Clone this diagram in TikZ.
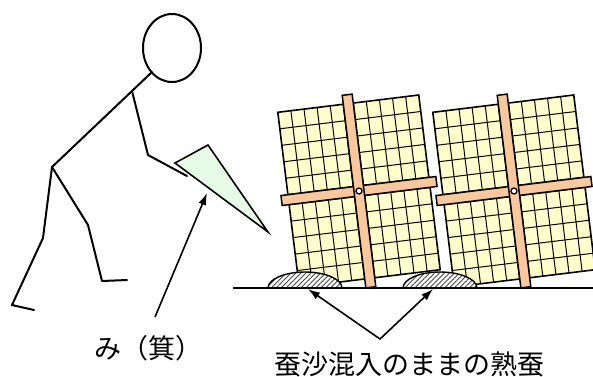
\documentclass[tikz,border=0pt]{standalone}
\usepackage{fontspec}
\newfontfamily\jpfont{Noto Sans CJK JP}
\usetikzlibrary{arrows.meta,patterns.meta}

\definecolor{panelfill}{RGB}{255,255,204}
\definecolor{barfill}{RGB}{250,200,155}
\definecolor{scoopgreen}{RGB}{230,252,230}
\definecolor{hatchgray}{RGB}{70,70,70}

\tikzset{
  stick/.style={line width=2pt, line join=round, line cap=round},
  outline/.style={draw=black, line width=1.6pt},
  gridline/.style={line width=1pt},
  barstyle/.style={fill=barfill, draw=black, line width=1.5pt},
  arr/.style={line width=1.6pt, -{Latex[length=12pt,width=8pt]}},
  twoarr/.style={line width=1.6pt, line join=miter, {Latex[length=12pt,width=8pt]}-{Latex[length=12pt,width=8pt]}},
  jp/.style={font=\fontsize{27pt}{27pt}\jpfont, inner sep=0pt},
  moundhatch/.style={pattern={Lines[angle=45,distance=3.5pt,line width=0.9pt]}, pattern color=hatchgray},
  % drying rack: four gridded panels held by a cross of laths
  rack/.pic={
    \foreach \ux/\wy in {-71/-88, 5/-88, -71/5, 5/5} {
      \fill[panelfill] (\ux,\wy) rectangle ++(66,83);
      \foreach \i in {1,...,4} \draw[gridline] (\ux+13.2*\i,\wy) -- ++(0,83);
      \foreach \j in {1,...,4} \draw[gridline] (\ux,\wy+16.6*\j) -- ++(66,0);
      \draw[outline] (\ux,\wy) rectangle ++(66,83);
    }
    \draw[barstyle] (-78,-5) rectangle (78,5);
    \draw[barstyle] (-5,-97) rectangle (5,97);
    \draw[fill=white, line width=1.3pt] (0,0) circle (3pt);
  }
}

\begin{document}
\begin{tikzpicture}[x=1pt,y=-1pt]
\useasboundingbox (0,0) rectangle (593,376);

% worker
\draw[stick] (172,48) ellipse [x radius=29pt, y radius=34pt];
\draw[stick] (152,72) -- (132,91) -- (52,167) -- (43,238) -- (12,305) -- (34,310);
\draw[stick] (52,167) -- (88,225) -- (102,281) -- (127,280);
\draw[stick] (132,91) -- (148,155) -- (187,176);

% scoop
\draw[line width=1.6pt, fill=scoopgreen, line join=miter] (175,163) -- (208,145) -- (268,232) -- cycle;

% racks standing on the floor
\begin{scope}
  \clip (0,0) rectangle (593,288);
  \pic[rotate=7] at (359,191) {rack};
  \pic[rotate=7] at (514,191) {rack};
\end{scope}

% heaps of silkworms mixed with droppings
\foreach \cx in {305,440} {
  \fill[white] (\cx-37,288) arc[start angle=180, end angle=0, x radius=37pt, y radius=16pt] -- cycle;
  \fill[moundhatch] (\cx-37,288) arc[start angle=180, end angle=0, x radius=37pt, y radius=16pt] -- cycle;
  \draw[line width=1.4pt] (\cx-37,288) arc[start angle=180, end angle=0, x radius=37pt, y radius=16pt];
}

% floor
\draw[line width=1.6pt] (233,288) -- (593,288);

% labels and pointers
\node[jp] (mi) at (148,348) {み（箕）};
\node[jp] (jukusan) at (409,364) {蚕沙混入のままの熟蚕};

\coordinate (scooptip) at (207,193);
\coordinate (mitail) at (155,317);
\coordinate (fork) at (380,339);
\coordinate (heapA) at (308,289);
\coordinate (heapB) at (433,289);

\draw[arr] (mitail) -- (scooptip);
\draw[twoarr] (heapA) -- (fork) -- (heapB);
\end{tikzpicture}
\end{document}
